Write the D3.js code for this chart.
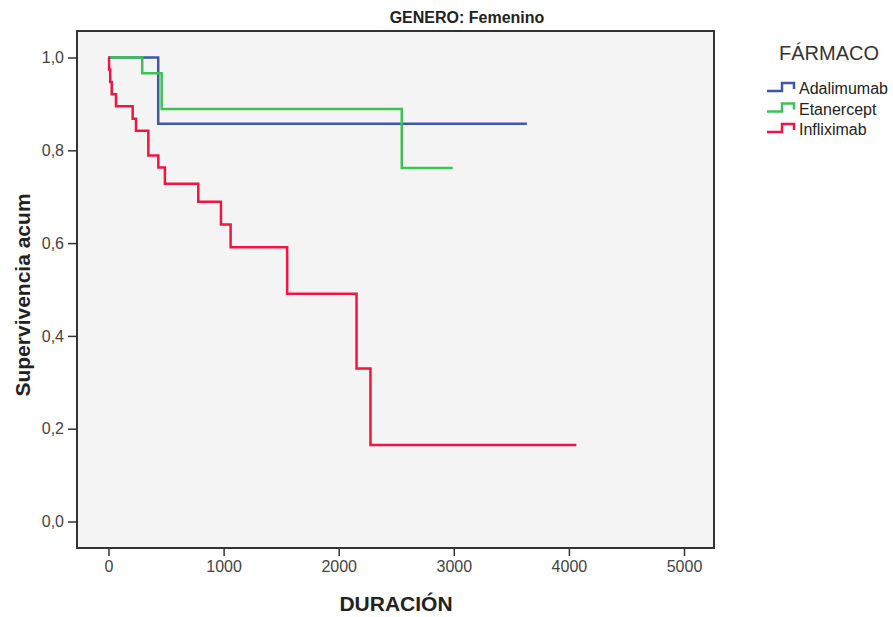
<!DOCTYPE html>
<html>
<head>
<meta charset="utf-8">
<script src="https://cdn.jsdelivr.net/npm/d3@7"></script>
<style>
  body { margin: 0; background: #fff; }
  text { font-family: "Liberation Sans", Arial, sans-serif; }
</style>
</head>
<body>
<script>
// Kaplan-Meier steps (time, cumulative survival)
const adaTimes = [0, 432, 3635];
const adaSurv  = [1.0, 0.857, 0.857];

const etaTimes = [0, 293, 462, 2548, 2990];
const etaSurv  = [1.0, 0.966, 0.889, 0.762, 0.762];

const infTimes = [0, 5, 15, 28, 65, 210, 239, 346, 433, 490, 780, 977, 1061, 1552, 2155, 2276, 4065];
const infSurv  = [1.0, 0.974, 0.947, 0.921, 0.895, 0.868, 0.842, 0.789, 0.763, 0.728, 0.689, 0.640, 0.591, 0.491, 0.330, 0.165, 0.165];

const farmacos = ["Adalimumab", "Etanercept", "Infliximab"];
const colors = ["#3d58a8", "#3cc254", "#f0163f"];

const xTicks = [0, 1000, 2000, 3000, 4000, 5000];
const yTicks = [0, 0.2, 0.4, 0.6, 0.8, 1.0];

const series = [
  { name: farmacos[0], times: adaTimes, surv: adaSurv },
  { name: farmacos[1], times: etaTimes, surv: etaSurv },
  { name: farmacos[2], times: infTimes, surv: infSurv }
];

const W = 893, H = 617;
// plot frame
const frame = { left: 77, right: 714, top: 31, bottom: 548 };

const svg = d3.select("body").append("svg")
    .attr("width", W)
    .attr("height", H);

const x = d3.scaleLinear().domain([0, 5000]).range([108.5, 684]);
const y = d3.scaleLinear().domain([0, 1]).range([521.5, 57.5]);

const es = d3.formatLocale({ decimal: ",", thousands: "", grouping: [3], currency: ["", ""] });

// background + frame
svg.append("rect")
    .attr("x", frame.left).attr("y", frame.top)
    .attr("width", frame.right - frame.left)
    .attr("height", frame.bottom - frame.top)
    .attr("fill", "#f4f4f4")
    .attr("stroke", "#333")
    .attr("stroke-width", 2);

// axes
const yAxis = svg.append("g")
    .attr("transform", `translate(${frame.left},0)`)
    .call(d3.axisLeft(y).tickValues(yTicks).tickFormat(es.format(".1f")).tickSize(9).tickPadding(4));

const xAxis = svg.append("g")
    .attr("transform", `translate(0,${frame.bottom})`)
    .call(d3.axisBottom(x).tickValues(xTicks).tickFormat(d3.format("d")).tickSize(8).tickPadding(5));

[xAxis, yAxis].forEach(g => {
  g.select(".domain").remove();
  g.selectAll(".tick line").attr("stroke", "#333").attr("stroke-width", 1.5);
  g.selectAll(".tick text")
      .attr("fill", "#444")
      .style("font-size", "16px")
      .style("font-family", "'Liberation Sans', Arial, sans-serif");
});

// survival curves
const line = d3.line()
    .x(d => x(d[0]))
    .y(d => y(d[1]))
    .curve(d3.curveStepAfter);

series.forEach((s, i) => {
  const pts = s.times.map((t, j) => [t, s.surv[j]]);
  svg.append("path")
      .datum(pts)
      .attr("d", line)
      .attr("fill", "none")
      .attr("stroke", colors[i])
      .attr("stroke-width", 2.5);
});

// title
svg.append("text")
    .attr("x", 467).attr("y", 23)
    .attr("text-anchor", "middle")
    .style("font-size", "16px")
    .style("font-weight", "bold")
    .attr("fill", "#222")
    .text("GENERO: Femenino");

// axis titles
svg.append("text")
    .attr("transform", "translate(30,295) rotate(-90)")
    .attr("text-anchor", "middle")
    .style("font-size", "21px")
    .style("font-weight", "bold")
    .attr("fill", "#222")
    .text("Supervivencia acum");

svg.append("text")
    .attr("x", 396).attr("y", 611)
    .attr("text-anchor", "middle")
    .style("font-size", "21px")
    .style("font-weight", "bold")
    .attr("fill", "#222")
    .text("DURACIÓN");

// legend
const legend = svg.append("g");
legend.append("text")
    .attr("x", 779).attr("y", 60)
    .style("font-size", "20px")
    .attr("fill", "#333")
    .text("FÁRMACO");

farmacos.forEach((f, i) => {
  const ly = 91 + i * 20.5;
  legend.append("path")
      .attr("d", `M767,${ly} H782 V${ly - 8} H794 V${ly - 2}`)
      .attr("fill", "none")
      .attr("stroke", colors[i])
      .attr("stroke-width", 2.5);
  legend.append("text")
      .attr("x", 799).attr("y", ly + 3)
      .style("font-size", "16px")
      .attr("fill", "#222")
      .text(f);
});
</script>
</body>
</html>
